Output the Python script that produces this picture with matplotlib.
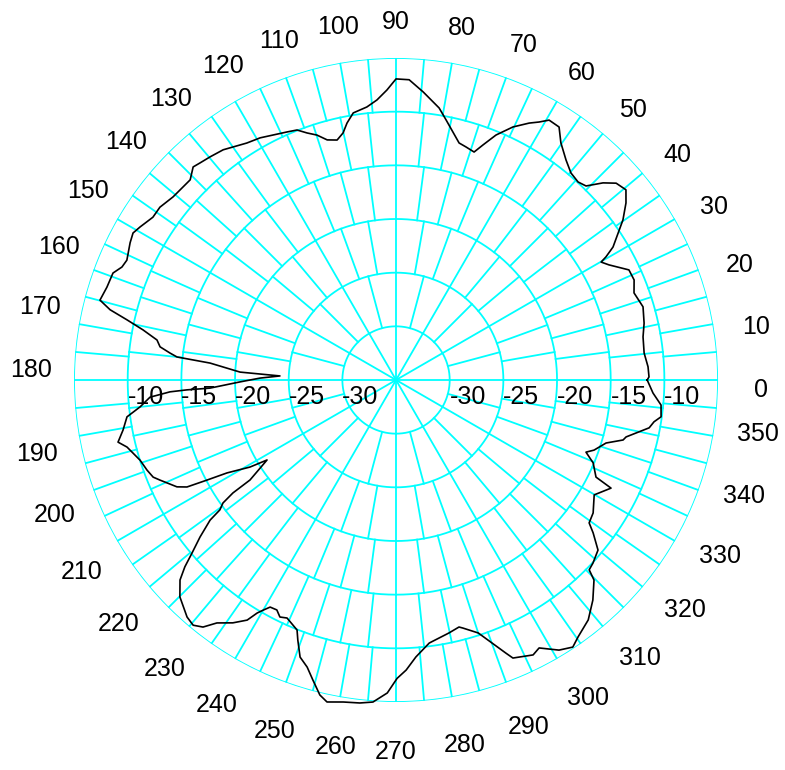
import numpy as np
import matplotlib
matplotlib.use('Agg')
from matplotlib import pyplot as plt

# measured pattern (angle in degrees, level in dB)
angle_deg = [0, 0.7, 3.0, 6.2, 9.9, 12.9, 16.5, 20.1, 22.8, 25.3, 28.4, 29.9, 30.4, 31.5,
             33.5, 35.2, 37.6, 39.6, 41.8, 43.6, 45.6, 47.4, 49.8, 52.3, 55.2, 57.2, 59.5,
             61.0, 62.6, 65.2, 67.8, 69.7, 71.1, 73.3, 75.1, 79.1, 81.0, 84.6, 87.5, 90.0,
             91.8, 93.9, 96.1, 99.1, 100.8, 102.1, 103.8, 106.0, 107.9, 109.8, 111.6, 113.7,
             116.7, 119.3, 122.2, 125.0, 126.9, 129.8, 132.1, 133.6, 135.8, 137.8, 140.6,
             143.8, 146.2, 149.1, 150.8, 152.7, 156.0, 157.6, 159.3, 162.2, 164.9, 166.2,
             167.4, 168.8, 170.5, 172.0, 173.2, 174.0, 174.8, 177.1, 178.0, 179.2, 180.7,
             182.5, 182.7, 183.0, 184.0, 186.0, 187.8, 190.4, 192.6, 194.0, 197.4, 199.9,
             201.8, 203.0, 206.0, 207.1, 207.9, 208.8, 210.8, 211.8, 214.4, 214.7, 215.4,
             216.4, 217.0, 218.7, 220.3, 221.5, 222.8, 225.1, 228.6, 230.4, 232.0, 233.6,
             236.1, 238.2, 239.2, 240.0, 241.0, 242.6, 243.9, 245.4, 248.4, 249.3, 250.9,
             252.8, 254.5, 256.4, 257.9, 260.7, 263.6, 265.9, 268.4, 270.2, 272.0, 274.1,
             277.2, 281.8, 284.3, 285.1, 288.0, 291.0, 291.9, 292.8, 296.5, 298.1, 301.1,
             303.5, 305.3, 308.7, 311.8, 314.7, 315.5, 317.1, 319.9, 322.2, 323.5, 326.0,
             329.9, 333.3, 334.1, 337.2, 339.2, 340.5, 343.3, 345.2, 346.1, 349.3, 350.8,
             352.1, 354.6, 357.1, 360]
gain_db = [-11.6, -11.43, -11.49, -11.75, -11.64, -11.29, -11.0, -11.39, -10.94, -11.0, -12.45,
           -12.96, -12.32, -11.29, -10.19, -9.13, -7.96, -7.2, -7.49, -8.37, -9.7, -9.94, -9.75,
           -9.1, -8.09, -6.96, -6.9, -7.52, -8.04, -9.03, -10.35, -11.65, -12.55, -12.33, -12.15,
           -10.33, -9.34, -8.05, -7.0, -6.95,
           -7.97, -8.85, -9.42, -9.8, -10.63, -11.46, -11.98, -11.73, -11.02, -10.54, -9.95,
           -9.76, -9.46, -9.13, -8.91, -8.5, -8.18, -7.94, -7.75, -7.59, -8.25, -8.22, -8.12,
           -7.74, -7.74, -7.22, -6.93, -7.12, -7.55, -7.38, -6.81, -6.71, -6.43, -7.57,
           -9.32, -10.97, -12.42, -12.8, -13.79, -14.48, -17.6, -20.45, -24.18, -22.33, -20.46,
           -17.65, -15.51, -13.91, -12.02, -11.02, -9.7, -9.14, -8.46, -9.17, -10.01, -10.33,
           -10.63, -11.12, -12.29, -13.12, -15.08, -17.03, -19.16, -20.86, -18.51, -16.52, -15.22,
           -14.61, -13.31, -11.6, -10.08, -8.73, -7.57, -6.47, -5.56, -5.35, -5.79, -6.88,
           -7.74, -8.68, -9.72, -10.24, -10.81, -10.87, -10.41, -10.61, -9.95, -9.11, -7.68,
           -7.0, -6.0, -4.81, -4.32, -4.6, -4.72, -4.92, -5.83, -7.2, -7.96, -9.13,
           -10.3, -10.92, -11.25, -11.06, -10.22, -8.25, -7.58, -6.9, -6.38, -6.7, -5.61,
           -5.16, -5.66, -6.36, -7.49, -8.78, -9.77, -9.95, -10.4, -11.76, -12.62, -12.85,
           -13.66, -12.58, -14.29, -15.08, -16.07, -15.43, -14.57, -13.12, -12.92, -11.0, -10.65,
           -10.07, -10.2, -11.03, -11.6]

ring_levels = [-30, -25, -20, -15, -10, -5]
ring_labels = ['-30', '-25', '-20', '-15', '-10']
angle_labels = list(range(0, 360, 10))

r_min, r_max = -35, -5
grid_col = '#00ffff'
font = 'Liberation Sans'

fig = plt.figure(figsize=(7.85, 7.70), dpi=100)
ax = fig.add_axes([0.0943, 0.0883, 0.8204, 0.8364], projection='polar')
ax.set_ylim(r_min, r_max)
ax.grid(False)
ax.set_xticks([])
ax.set_yticks([])
ax.spines['polar'].set_visible(False)

# rings
th = np.linspace(0, 2 * np.pi, 721)
for r in ring_levels:
    ax.plot(th, np.full_like(th, r), color=grid_col, lw=1.3, zorder=1)

# spokes, denser in each outer band
for k in range(1, len(ring_levels) + 1):
    r_in = r_min + 5 * (k - 1)
    r_out = r_min + 5 * k
    for a in np.arange(0, 360, 360 / (12 * k)):
        t = np.deg2rad(a)
        ax.plot([t, t], [r_in, r_out], color=grid_col, lw=1.3, zorder=1)

# radial labels on both sides of the horizontal axis
for lab, r in zip(ring_labels, ring_levels):
    for t in (0, np.pi):
        ax.annotate(lab, xy=(t, r), xytext=(0, -5), textcoords='offset pixels',
                    ha='left', va='top', fontsize=18, family=font, zorder=3)

# angle labels, slightly skewed like the original
for a in angle_labels:
    t = np.deg2rad(a)
    shift = -1.6 * np.sqrt(abs(np.cos(t))) if a <= 180 else 1.6 * np.sqrt(abs(np.cos(t)))
    r_lab = -1.0 - 0.65 * np.sin(t)
    ax.text(np.deg2rad(a + shift), r_lab, str(a), ha='center', va='center',
            fontsize=18, family=font)

ax.plot(np.deg2rad(angle_deg), gain_db, color='black', lw=1.2, clip_on=False, zorder=4)

fig.savefig('out.png', dpi=100, facecolor='white')
